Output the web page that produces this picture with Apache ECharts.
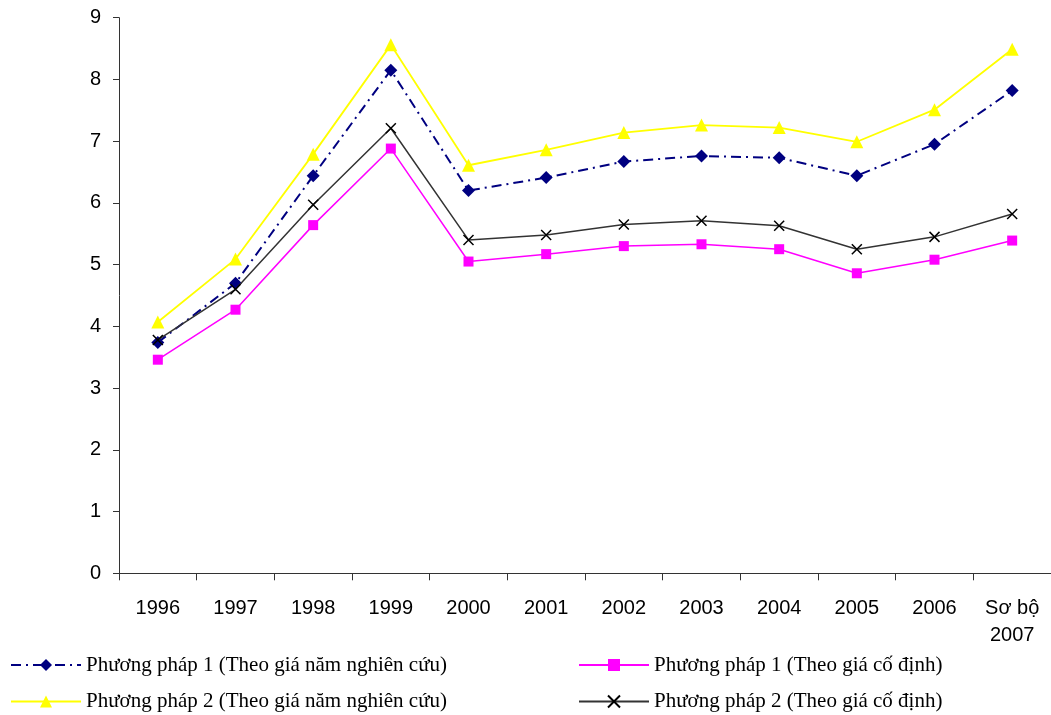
<!DOCTYPE html>
<html>
<head>
<meta charset="utf-8">
<script src="https://cdn.jsdelivr.net/npm/echarts@6/dist/echarts.min.js"></script>
<style>html,body{margin:0;padding:0;background:#fff}#c{width:1051px;height:715px}</style>
</head>
<body>
<div id="c"></div>
<script>
const categories = ['1996','1997','1998','1999','2000','2001','2002','2003','2004','2005','2006','Sơ bộ\n2007'];
const seriesNames = [
  'Phương pháp 1 (Theo giá năm nghiên cứu)',
  'Phương pháp 1 (Theo giá cố định)',
  'Phương pháp 2 (Theo giá năm nghiên cứu)',
  'Phương pháp 2 (Theo giá cố định)'
];
const pp1Current = [3.74, 4.70, 6.44, 8.15, 6.20, 6.41, 6.67, 6.76, 6.73, 6.44, 6.95, 7.82];
const pp1Fixed   = [3.46, 4.27, 5.64, 6.88, 5.05, 5.17, 5.30, 5.33, 5.25, 4.86, 5.08, 5.39];
const pp2Current = [4.07, 5.09, 6.79, 8.56, 6.61, 6.86, 7.14, 7.26, 7.22, 6.99, 7.51, 8.49];
const pp2Fixed   = [3.78, 4.60, 5.97, 7.21, 5.40, 5.48, 5.65, 5.71, 5.63, 5.25, 5.45, 5.82];
const yTicks = {min: 0, max: 9, interval: 1};

const chart = echarts.init(document.getElementById('c'), null, {renderer: 'canvas'});
const crossPath = 'path://M0,0L10,10M10,0L0,10';
const legendText = {fontFamily: 'Liberation Serif', fontSize: 21, color: '#000', lineHeight: 22};
function legend(name, left, top) {
  return {
    data: [name], left: left, top: top, padding: 0,
    itemWidth: 70, itemHeight: 15, itemGap: 0,
    textStyle: legendText, selectedMode: false
  };
}
chart.setOption({
  animation: false,
  backgroundColor: '#fff',
  grid: {left: 119, right: -4, top: 17.7, bottom: 141.7, containLabel: false},
  legend: [
    legend(seriesNames[0], 10, 654),
    legend(seriesNames[1], 578, 654),
    legend(seriesNames[2], 10, 690.5),
    legend(seriesNames[3], 578, 690.5)
  ],
  xAxis: {
    type: 'category', data: categories, boundaryGap: true,
    axisLine: {lineStyle: {color: '#333', width: 1}},
    axisTick: {show: true, length: 7, inside: false, lineStyle: {color: '#333'}},
    axisLabel: {fontFamily: 'Liberation Sans', fontSize: 20, color: '#000', margin: 22, lineHeight: 27, interval: 0}
  },
  yAxis: {
    type: 'value', min: yTicks.min, max: yTicks.max, interval: yTicks.interval,
    splitLine: {show: false},
    axisLine: {show: true, lineStyle: {color: '#333', width: 1}},
    axisTick: {show: true, length: 6, lineStyle: {color: '#333'}},
    axisLabel: {fontFamily: 'Liberation Sans', fontSize: 20, color: '#000', margin: 18}
  },
  series: [
    {
      name: seriesNames[0], type: 'line', data: pp1Current,
      symbol: 'diamond', symbolSize: 13,
      itemStyle: {color: '#000080'},
      lineStyle: {color: '#000080', width: 2, type: [10, 5, 2, 5]},
      z: 2
    },
    {
      name: seriesNames[1], type: 'line', data: pp1Fixed,
      symbol: 'rect', symbolSize: 10,
      itemStyle: {color: '#FF00FF'},
      lineStyle: {color: '#FF00FF', width: 1.5},
      z: 3
    },
    {
      name: seriesNames[2], type: 'line', data: pp2Current,
      symbol: 'triangle', symbolSize: 13,
      itemStyle: {color: '#FFFF00'},
      lineStyle: {color: '#FFFF00', width: 1.8},
      z: 4
    },
    {
      name: seriesNames[3], type: 'line', data: pp2Fixed,
      symbol: crossPath, symbolSize: 10,
      itemStyle: {color: '#000', borderColor: '#000', borderWidth: 1.5},
      lineStyle: {color: '#333', width: 1.5},
      z: 5
    }
  ]
});
</script>
</body>
</html>
